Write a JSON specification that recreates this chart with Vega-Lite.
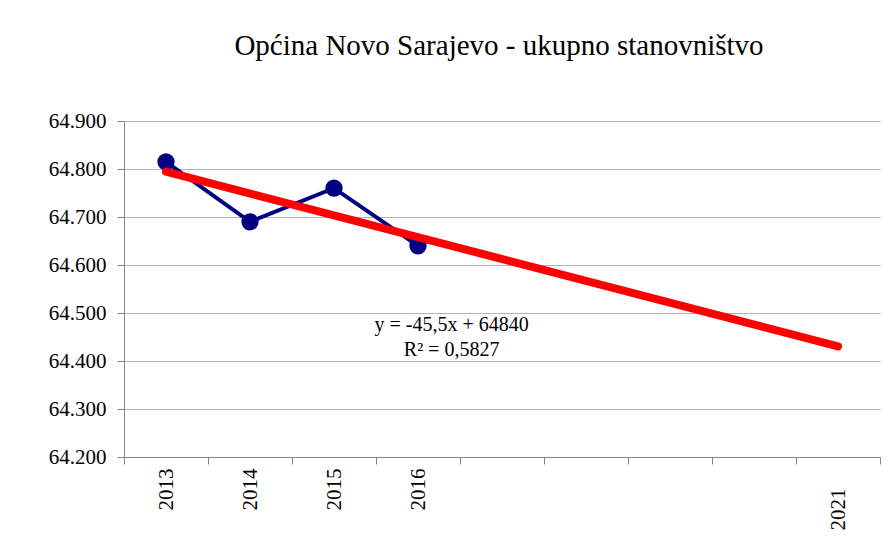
{
  "$schema": "https://vega.github.io/schema/vega-lite/v6.json",
  "width": 756,
  "height": 336,
  "autosize": {"type": "none"},
  "padding": {"left": 124, "top": 121, "right": 14, "bottom": 81},
  "background": "white",
  "title": {
    "text": "Općina Novo Sarajevo - ukupno stanovništvo",
    "font": "Liberation Serif, Times New Roman, serif",
    "fontSize": 29,
    "fontWeight": "normal",
    "color": "black",
    "anchor": "middle",
    "frame": "group",
    "baseline": "alphabetic",
    "offset": 26,
    "dx": -3
  },
  "config": {"view": {"stroke": null}, "font": "Liberation Serif, Times New Roman, serif"},
  "datasets": {
    "population": [
      {"year": "2013", "value": 64815},
      {"year": "2014", "value": 64690},
      {"year": "2015", "value": 64760},
      {"year": "2016", "value": 64640}
    ],
    "trend": [
      {"year": "2013", "value": 64794.5},
      {"year": "2021", "value": 64430.5}
    ],
    "equation": [
      {"year": "2016", "value": 64474, "label": "y = -45,5x + 64840"},
      {"year": "2016", "value": 64422, "label": "R² = 0,5827"}
    ]
  },
  "encoding": {
    "x": {
      "field": "year",
      "type": "ordinal",
      "scale": {
        "type": "band",
        "domain": ["2013", "2014", "2015", "2016", "2017", "2018", "2019", "2020", "2021"],
        "paddingInner": 0,
        "paddingOuter": 0
      },
      "axis": {
        "title": null,
        "grid": false,
        "tickBand": "extent",
        "tickSize": 7,
        "tickColor": "#868686",
        "domainColor": "#868686",
        "labelAngle": -90,
        "labelAlign": "right",
        "labelBaseline": "middle",
        "labelFont": "Liberation Serif, Times New Roman, serif",
        "labelFontSize": 21,
        "labelColor": "black",
        "labelPadding": {"condition": {"test": "datum.value == '2021'", "value": 24}, "value": 4},
        "labelExpr": "indexof(['2017','2018','2019','2020'], datum.value) >= 0 ? '' : datum.value"
      }
    },
    "y": {
      "field": "value",
      "type": "quantitative",
      "scale": {"domain": [64200, 64900], "nice": false, "zero": false},
      "axis": {
        "title": null,
        "values": [64200, 64300, 64400, 64500, 64600, 64700, 64800, 64900],
        "grid": true,
        "gridColor": "#b3b3b3",
        "gridWidth": 1,
        "domainColor": "#868686",
        "tickColor": "#868686",
        "tickSize": 7,
        "labelPadding": 11,
        "labelFont": "Liberation Serif, Times New Roman, serif",
        "labelFontSize": 21,
        "labelColor": "black",
        "labelExpr": "replace(format(datum.value, ','), ',', '.')"
      }
    }
  },
  "layer": [
    {
      "data": {"name": "population"},
      "mark": {"type": "line", "color": "#000080", "strokeWidth": 4},
      "encoding": {}
    },
    {
      "data": {"name": "population"},
      "mark": {"type": "point", "shape": "circle", "filled": true, "color": "#000080", "opacity": 1, "size": 300},
      "encoding": {}
    },
    {
      "data": {"name": "trend"},
      "mark": {"type": "line", "color": "#ff0000", "strokeWidth": 8, "strokeCap": "round"},
      "encoding": {}
    },
    {
      "data": {"name": "equation"},
      "mark": {"type": "text", "font": "Liberation Serif, Times New Roman, serif", "fontSize": 20, "color": "black", "align": "center", "baseline": "middle"},
      "encoding": {
        "x": {"field": "year", "type": "ordinal", "bandPosition": 0.9},
        "text": {"field": "label"}
      }
    }
  ]
}
